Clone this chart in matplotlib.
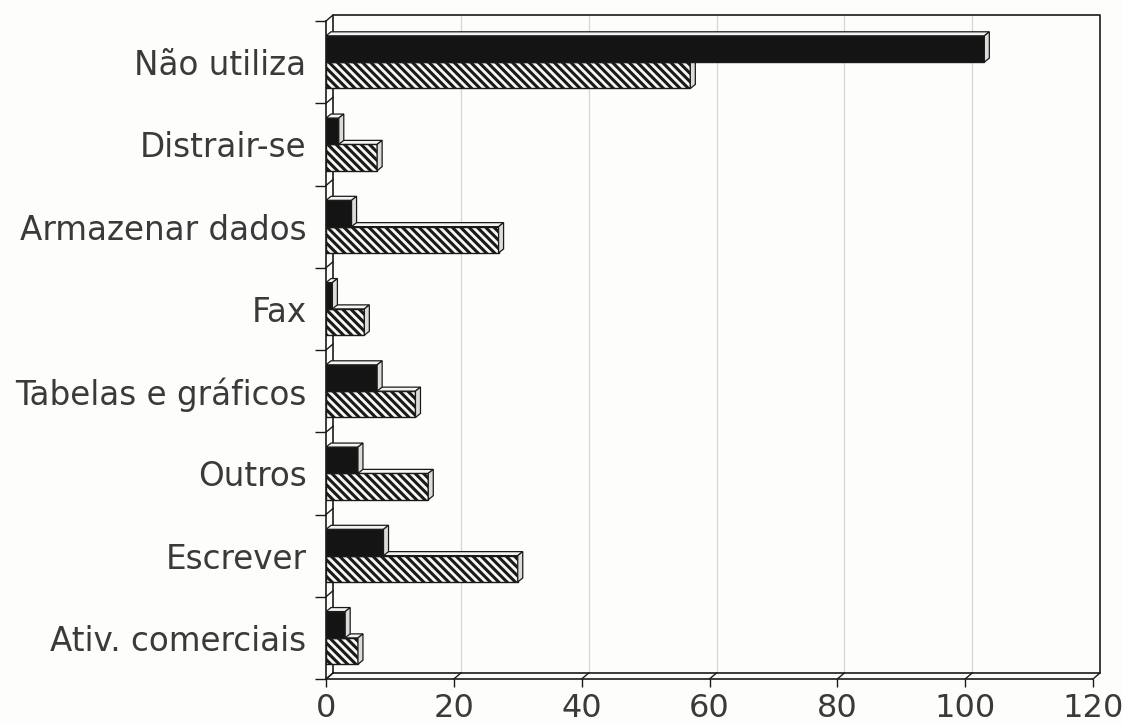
import numpy as np
import matplotlib
matplotlib.use("Agg")
import matplotlib.pyplot as plt
from matplotlib import transforms
from matplotlib.patches import Polygon

# Uses of the computer, two groups per category
categories = ["Não utiliza", "Distrair-se", "Armazenar dados", "Fax",
              "Tabelas e gráficos", "Outros", "Escrever", "Ativ. comerciais"]
dark_values = [103, 2, 4, 1, 8, 5, 9, 3]
hatched_values = [57, 8, 27, 6, 14, 16, 30, 5]
x_ticks = [0, 20, 40, 60, 80, 100, 120]

plt.rcParams['font.family'] = ['DejaVu Sans']
plt.rcParams['hatch.linewidth'] = 2.2
plt.rcParams['hatch.color'] = '#1e1e1e'

W, H = 1122, 725
fig = plt.figure(figsize=(W / 100, H / 100), dpi=100, facecolor='#fdfdfb')
ax_l, ax_r, ax_t, ax_b = 326, 1093, 21, 679
ax = fig.add_axes([ax_l / W, 1 - ax_b / H, (ax_r - ax_l) / W, (ax_b - ax_t) / H])
ax.set_facecolor('none')

n = len(categories)
y = np.arange(n)
xmax = 120
ax.set_xlim(0, xmax)
ax.set_ylim(n - 0.5, -0.5)

# pixel -> data conversion for the pseudo 3D faces
sx = (ax_r - ax_l) / xmax
sy = (ax_b - ax_t) / n
wall_dx, wall_dy = 7, 6      # back wall offset in pixels
bar_dx, bar_dy = 5, 4        # bar depth in pixels

line_col = '#1a1a1a'
text_col = '#3a3a3a'
back = transforms.offset_copy(ax.transData, fig=fig, x=wall_dx, y=wall_dy, units='dots')

# back wall, floor and grid
for v in x_ticks[1:-1]:
    ax.plot([v, v], [-0.5, n - 0.5], color='#d6d6d6', lw=0.9, transform=back,
            clip_on=False, zorder=0)
ax.plot([0, 0, xmax, xmax, 0], [n - 0.5, -0.5, -0.5, n - 0.5, n - 0.5],
        color=line_col, lw=1.2, transform=back, clip_on=False, zorder=1)

# connecting diagonals from the front axes to the back wall
ddx, ddy = wall_dx / sx, wall_dy / sy
for v in x_ticks:
    ax.plot([v, v + ddx], [n - 0.5, n - 0.5 - ddy], color=line_col, lw=1.0,
            clip_on=False, zorder=1)
for b in np.arange(-0.5, n, 1.0):
    ax.plot([0, ddx], [b, b - ddy], color=line_col, lw=1.0, clip_on=False, zorder=1)


def bar3d(yc, value, h, face, hatch=None, z=2):
    y0, y1 = yc - h / 2, yc + h / 2
    ax.barh(yc, value, height=h, color=face, edgecolor=line_col, linewidth=1.0,
            hatch=hatch, zorder=z)
    dx, dy = bar_dx / sx, bar_dy / sy
    top = Polygon([(0, y0), (value, y0), (value + dx, y0 - dy), (dx, y0 - dy)],
                  closed=True, facecolor='#f4f4f1', edgecolor=line_col, lw=0.9, zorder=z)
    side = Polygon([(value, y0), (value + dx, y0 - dy), (value + dx, y1 - dy), (value, y1)],
                   closed=True, facecolor='#dcdcd8', edgecolor=line_col, lw=0.9, zorder=z)
    ax.add_patch(top)
    ax.add_patch(side)


bh = 0.32
for i in range(n):
    bar3d(y[i] + bh / 2, hatched_values[i], bh, '#f7f7f4', hatch='\\\\\\\\', z=2)
    bar3d(y[i] - bh / 2, dark_values[i], bh, '#141414', z=3)

# front axes
for side in ['top', 'right']:
    ax.spines[side].set_visible(False)
for side in ['left', 'bottom']:
    ax.spines[side].set_color(line_col)
    ax.spines[side].set_linewidth(1.2)

ax.set_yticks(y)
ax.set_yticklabels(categories)
ax.set_yticks(np.arange(-0.5, n, 1.0), minor=True)
ax.tick_params(axis='y', which='major', length=0, pad=14, labelsize=23.5,
               labelcolor=text_col)
ax.tick_params(axis='y', which='minor', length=8, width=1.0, color=line_col)
ax.set_xticks(x_ticks)
ax.tick_params(axis='x', length=6, width=1.0, color=line_col, pad=4,
               labelsize=23, labelcolor=text_col)

fig.savefig('out.png', dpi=100, facecolor=fig.get_facecolor())
